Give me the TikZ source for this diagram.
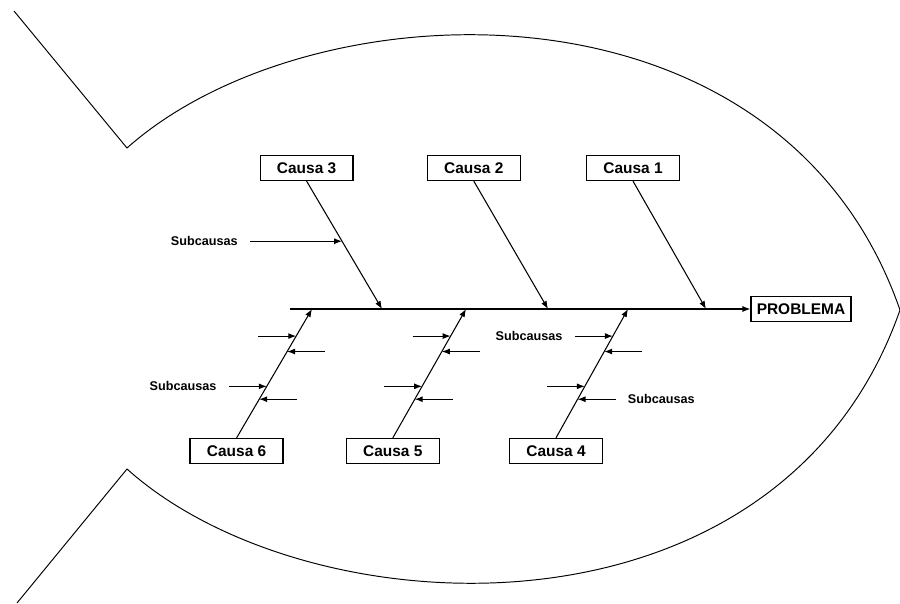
\documentclass[tikz,border=0pt]{standalone}
\usepackage{fontspec}
\setmainfont{Liberation Sans}
\usepackage{tikz}
\usetikzlibrary{arrows.meta,calc,positioning}
\tikzset{causa/.style={rectangle, draw=black, line width=0.7pt, minimum width=1.86cm, minimum height=0.5cm, inner sep=1pt, font=\bfseries\fontsize{8.8}{10}\selectfont}}
\tikzset{subtxt/.style={inner sep=0pt, font=\bfseries\fontsize{7.2}{9}\selectfont}}
\tikzset{bone/.style={line width=0.6pt, -{Latex[length=4.5pt,width=3.4pt]}}}
\tikzset{sub/.style={line width=0.6pt, -{Latex[length=4.5pt,width=3.4pt]}}}

\begin{document}
\begin{tikzpicture}[x=0.02cm,y=-0.02cm]
    \useasboundingbox (0,0) rectangle (900,603);

    % fish outline
    \draw[line width=0.55pt] (14,11) -- (127,148) .. controls (310,-15) and (780,-35) .. (900,310)
        .. controls (780,653) and (310,633) .. (127,469) -- (17,603);

    \node[causa,minimum width=2cm] (p) at (801,309) {PROBLEMA};

    \node[causa] (c1) at (633,168) {Causa 1};
    \node[causa,left=1.3cm of c1] (c2) {Causa 2};
    \node[causa,left=1.46cm of c2] (c3) {Causa 3};

    \node[causa] (c4) at (556,451) {Causa 4};
    \node[causa,left=1.38cm of c4] (c5) {Causa 5};
    \node[causa,left=1.24cm of c5] (c6) {Causa 6};

    \coordinate (sp) at (290,309);
    \coordinate (j1) at (706,309);
    \coordinate (j2) at (548,309);
    \coordinate (j3) at (382,309);
    \coordinate (j4) at (628,309);
    \coordinate (j5) at (466,309);
    \coordinate (j6) at (312,309);

    \draw[bone] (sp) -- (p);

    \foreach \b in {1,2,3}
        \draw[bone] (c\b.south) -- (j\b);
    \foreach \b in {4,5,6}
        \draw[bone] (c\b.north) -- (j\b);

    % subcausas
    \coordinate (s3) at ($(c3.south)!0.47!(j3)$);
    \coordinate (t3) at ($(s3)+(-92,0)$);
    \draw[sub] (t3) -- (s3);
    \node[subtxt,left=0.24cm of t3] (l3) {Subcausas};

    \foreach \b in {4,5,6} {
        \foreach \f/\d [count=\i] in {0.79/-38,0.67/38,0.40/-38,0.30/38} {
            \coordinate (s\b\i) at ($(c\b.north)!\f!(j\b)$);
            \coordinate (t\b\i) at ($(s\b\i)+(\d,0)$);
            \draw[sub] (t\b\i) -- (s\b\i);
        }
    }

    \node[subtxt,left=0.24cm of t63] (l6) {Subcausas};
    \node[subtxt,left=0.24cm of t41] (l41) {Subcausas};
    \node[subtxt,right=0.24cm of t44] (l44) {Subcausas};

\end{tikzpicture}
\end{document}
